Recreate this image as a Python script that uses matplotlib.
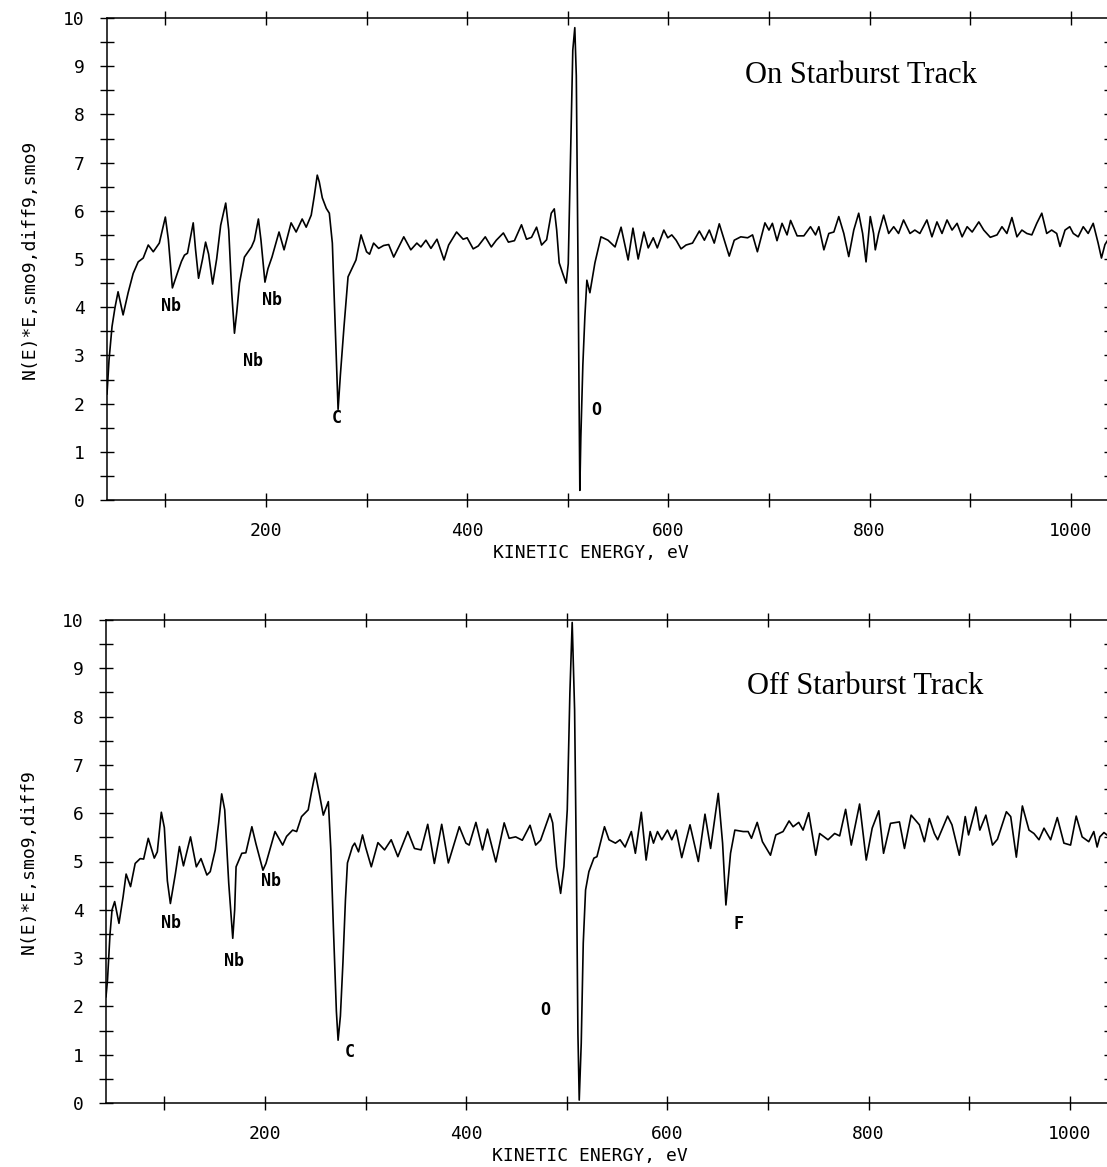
import numpy as np
import matplotlib
matplotlib.use("Agg")
import matplotlib.pyplot as plt

# ---- data (kinetic energy eV, N(E)*E derivative) ----
top_e = [42, 44, 47, 50, 53, 58, 63, 68, 73, 78, 83, 88, 94, 100, 103, 107, 112, 116,
         119, 122, 127.7, 130, 133, 137, 140, 143, 147, 151, 155, 160, 163, 166, 168.7,
         171, 173.7, 178.6, 185.6, 188.5, 192.5, 195, 199, 202, 206, 213, 218, 225, 230,
         236, 240, 245, 248, 251, 253, 256, 260, 263, 266, 268.5, 271.7, 274, 277.6,
         281.6, 289.5, 294.5, 300, 303, 307, 312, 317, 322, 327, 337, 344, 350, 354, 359,
         364, 370, 377, 381.6, 389.5, 396, 400, 406, 411, 418, 424, 429, 436, 441, 447,
         454, 459, 464, 469, 474, 479, 483.6, 486.6, 489, 491.5, 495, 498.4, 500.5, 503,
         505, 507, 508.5, 510.3, 512, 513, 515, 517, 519, 522, 527, 533, 540, 547, 553,
         560, 564.8, 570, 575.7, 580, 585, 589, 595.5, 599.4, 603.4, 607.7, 612.6, 617.6,
         624, 630.8, 635.8, 640.7, 645.6, 650.6, 655.6, 660.5, 665.5, 672, 678.8, 683.7,
         688.5, 696, 700, 703.4, 708, 713, 718, 721.5, 728, 734.7, 741.3, 746.3, 749.6,
         754.6, 759.5, 764.5, 769.4, 774.4, 779.3, 784.3, 789.2, 793.1, 796.5, 800.7, 804,
         805.7, 809, 814, 819, 824, 828.8, 833.8, 840.2, 845, 850, 857, 862, 867, 872, 877,
         882, 887, 892, 897, 902, 908.6, 913.5, 920, 926.7, 931.6, 936.5, 941.5, 946.5,
         951.4, 956.3, 961.3, 966.2, 971.2, 976.1, 981, 986, 989.3, 994.3, 999, 1002.5,
         1007.4, 1012.4, 1017.3, 1022.3, 1027.2, 1030.5, 1034, 1040]
top_n = [2.2, 2.9, 3.6, 4.0, 4.32, 3.84, 4.3, 4.7, 4.94, 5.02, 5.29, 5.15, 5.33, 5.87, 5.4,
         4.4, 4.71, 4.95, 5.08, 5.12, 5.75, 5.2, 4.6, 5.0, 5.35, 5.1, 4.48, 5.0, 5.7, 6.16,
         5.6, 4.3, 3.46, 3.9, 4.5, 5.04, 5.25, 5.39, 5.83, 5.4, 4.52, 4.8, 5.04, 5.56, 5.19,
         5.75, 5.56, 5.83, 5.66, 5.91, 6.3, 6.74, 6.6, 6.27, 6.05, 5.95, 5.33, 3.8, 1.88,
         2.6, 3.6, 4.63, 4.98, 5.5, 5.15, 5.1, 5.33, 5.22, 5.28, 5.3, 5.04, 5.46, 5.19,
         5.33, 5.25, 5.39, 5.22, 5.41, 4.98, 5.29, 5.56, 5.41, 5.44, 5.21, 5.27, 5.46, 5.25,
         5.39, 5.54, 5.35, 5.38, 5.71, 5.41, 5.45, 5.66, 5.29, 5.4, 5.95, 6.04, 5.6, 4.92,
         4.7, 4.5, 4.9, 7.4, 9.33, 9.8, 8.8, 4.63, 0.2, 1.3, 2.8, 3.8, 4.56, 4.3, 4.92,
         5.46, 5.39, 5.25, 5.66, 4.98, 5.64, 5.0, 5.56, 5.23, 5.44, 5.23, 5.6, 5.44, 5.5,
         5.39, 5.21, 5.29, 5.33, 5.58, 5.39, 5.6, 5.33, 5.73, 5.39, 5.06, 5.39, 5.46, 5.44,
         5.5, 5.15, 5.75, 5.6, 5.74, 5.38, 5.74, 5.5, 5.8, 5.48, 5.48, 5.67, 5.5, 5.67,
         5.19, 5.53, 5.56, 5.88, 5.53, 5.05, 5.6, 5.95, 5.53, 4.94, 5.88, 5.53, 5.19, 5.53,
         5.91, 5.53, 5.67, 5.53, 5.81, 5.53, 5.6, 5.53, 5.81, 5.46, 5.77, 5.53, 5.81, 5.6,
         5.74, 5.46, 5.67, 5.56, 5.77, 5.6, 5.45, 5.5, 5.67, 5.53, 5.86, 5.46, 5.6, 5.53,
         5.5, 5.74, 5.95, 5.53, 5.6, 5.53, 5.26, 5.6, 5.67, 5.53, 5.46, 5.67, 5.53, 5.74,
         5.33, 5.02, 5.3, 5.5]

bot_e = [42, 43.5, 46, 48, 50.6, 54.9, 59, 62, 66.4, 71, 76, 79.4, 84, 90, 93, 97, 100,
         103, 106, 111, 115, 119, 126, 131.8, 136.4, 142.3, 145.6, 150.6, 154, 157, 160,
         164, 168, 169.9, 171.3, 177, 181, 187, 191, 198, 201, 210, 217.6, 221.5, 227.5,
         231.5, 236.4, 243, 246, 250, 254, 258, 263, 265.5, 268, 271, 272.7, 275, 277.5,
         280, 282, 287, 289.2, 293, 297, 300, 305.7, 312.3, 318.9, 325.5, 332.1, 342,
         348.6, 355.2, 361.8, 368.4, 375.7, 382.3, 393.2, 399.8, 403, 409.7, 416.3, 421.2,
         429.5, 437.8, 442.7, 449.2, 455.8, 463.5, 469.1, 474, 483.3, 486, 489.9, 493.9,
         497.2, 500.5, 503.1, 505.4, 507.8, 509.7, 511.1, 512.4, 514.4, 516.4, 518.7, 522,
         527, 530, 537.5, 542, 548.4, 553, 558, 564.2, 568.2, 574.1, 578.9, 582.9, 586.2,
         590.2, 594.5, 600.1, 604.4, 608.7, 614.3, 622.5, 630.8, 637.4, 643, 650.6, 654.9,
         658.2, 662.8, 667.1, 675.4, 680.3, 683.6, 689.3, 694.5, 702.5, 707.8, 715, 721,
         725, 730.6, 734.9, 740.5, 747.5, 751.4, 759.7, 766.3, 771.3, 777.2, 782.8, 791.1,
         797.7, 803.6, 810.2, 814.9, 821.8, 830.7, 835.7, 842.3, 850.5, 855.5, 860.4,
         865.4, 868.7, 878.6, 882.9, 890.2, 896.1, 899.4, 906.7, 910.6, 916.6, 923.2,
         928.1, 937, 941.3, 946.9, 952.9, 959.5, 964.4, 969.4, 974.4, 981, 987.6, 994.2,
         1000.8, 1006.4, 1012.3, 1018.9, 1023.9, 1027.2, 1029.9, 1034, 1040]
bot_n = [2.2, 2.55, 3.5, 4.0, 4.17, 3.72, 4.27, 4.74, 4.48, 4.96, 5.06, 5.05, 5.48, 5.07,
         5.2, 6.02, 5.7, 4.6, 4.13, 4.75, 5.31, 4.91, 5.51, 4.89, 5.06, 4.72, 4.79, 5.24,
         5.8, 6.4, 6.07, 4.55, 3.41, 4.0, 4.89, 5.17, 5.18, 5.72, 5.37, 4.82, 4.96, 5.62,
         5.34, 5.52, 5.65, 5.62, 5.93, 6.07, 6.41, 6.83, 6.41, 5.96, 6.24, 5.24, 3.65, 1.9,
         1.3, 1.8, 2.9, 4.2, 4.97, 5.31, 5.38, 5.2, 5.55, 5.3, 4.89, 5.39, 5.24, 5.45, 5.1,
         5.62, 5.27, 5.24, 5.77, 4.96, 5.77, 4.97, 5.72, 5.38, 5.34, 5.81, 5.24, 5.67, 4.99,
         5.8, 5.48, 5.51, 5.44, 5.75, 5.34, 5.44, 5.99, 5.8, 4.89, 4.34, 4.9, 6.07, 8.48,
         9.95, 8.14, 4.69, 1.44, 0.06, 1.24, 3.31, 4.41, 4.79, 5.07, 5.1, 5.72, 5.45, 5.38,
         5.45, 5.3, 5.62, 5.17, 6.02, 5.03, 5.62, 5.38, 5.62, 5.45, 5.65, 5.45, 5.65, 5.08,
         5.76, 5.0, 5.98, 5.27, 6.41, 5.38, 4.1, 5.17, 5.65, 5.62, 5.62, 5.48, 5.81, 5.41,
         5.13, 5.55, 5.62, 5.84, 5.72, 5.81, 5.65, 6.01, 5.13, 5.58, 5.45, 5.58, 5.53, 6.08,
         5.34, 6.19, 5.03, 5.69, 6.05, 5.17, 5.79, 5.82, 5.27, 5.96, 5.76, 5.41, 5.89, 5.58,
         5.45, 5.94, 5.76, 5.13, 5.93, 5.55, 6.13, 5.65, 5.96, 5.34, 5.46, 6.03, 5.93, 5.09,
         6.15, 5.65, 5.58, 5.45, 5.69, 5.45, 5.91, 5.38, 5.34, 5.94, 5.51, 5.41, 5.62, 5.3,
         5.51, 5.6, 5.5]

# peak labels: (text, energy, value)
top_labels = [("Nb", 106, 4.02), ("Nb", 187, 2.88), ("Nb", 206.5, 4.15),
              ("C", 270.5, 1.7), ("O", 528, 1.87)]
bot_labels = [("Nb", 106.5, 3.72), ("Nb", 169, 2.95), ("Nb", 206.5, 4.6),
              ("C", 284.5, 1.06), ("O", 478.5, 1.93), ("F", 670.5, 3.71)]

plot_font = ["Liberation Sans Narrow", "DejaVu Sans Mono"]

W, H = 1107, 1167
fig = plt.figure(figsize=(W / 100, H / 100), dpi=100)


def make_panel(rect, xlim, e, n, labels, ylabel, title, title_xy):
    ax = fig.add_axes(rect)
    ax.plot(e, n, color="black", lw=1.2)
    ax.set_xlim(*xlim)
    ax.set_ylim(0, 10)
    ax.spines["right"].set_visible(False)
    for s in ("left", "top", "bottom"):
        ax.spines[s].set_linewidth(1.1)

    ax.set_xticks(np.arange(200, 1001, 200))
    ax.set_xticks(np.arange(100, 1001, 200), minor=True)
    ax.set_yticks(np.arange(0, 11, 1))
    ax.set_yticks(np.arange(0.5, 10, 1), minor=True)
    ax.tick_params(which="both", direction="inout", length=10, width=1.0,
                   top=True, right=False, pad=11)
    for lab in ax.get_xticklabels() + ax.get_yticklabels():
        lab.set_family(plot_font)
        lab.set_fontsize(13)

    # short inward marks along the (missing) right edge
    tw = ax.twinx()
    tw.set_ylim(0, 10)
    tw.set_yticks(np.arange(0.5, 10, 0.5))
    tw.tick_params(direction="in", length=4, width=1.0, labelright=False)
    for s in tw.spines.values():
        s.set_visible(False)

    for txt, x, y in labels:
        ax.text(x, y, txt, ha="center", va="center", family=plot_font,
                fontsize=12, fontweight="bold")

    ax.text(title_xy[0], title_xy[1], title, ha="left", va="center",
            family="Liberation Serif", fontsize=22)

    ax.set_xlabel("KINETIC ENERGY, eV", family=plot_font, fontsize=13)
    ax.xaxis.set_label_coords(0.482, -0.092)
    ax.set_ylabel(ylabel, family=plot_font, fontsize=13)
    ax.yaxis.set_label_coords(-0.068, 0.5)
    return ax


make_panel([107 / W, 1 - 500 / H, 1003 / W, 482 / H], (42, 1039),
           top_e, top_n, top_labels, "N(E)*E,smo9,diff9,smo9",
           "On Starburst Track", (676, 8.8))
make_panel([106 / W, 1 - 1103 / H, 1004 / W, 483 / H], (42, 1040),
           bot_e, bot_n, bot_labels, "N(E)*E,smo9,diff9",
           "Off Starburst Track", (679, 8.63))

fig.savefig("out.png", dpi=100)
